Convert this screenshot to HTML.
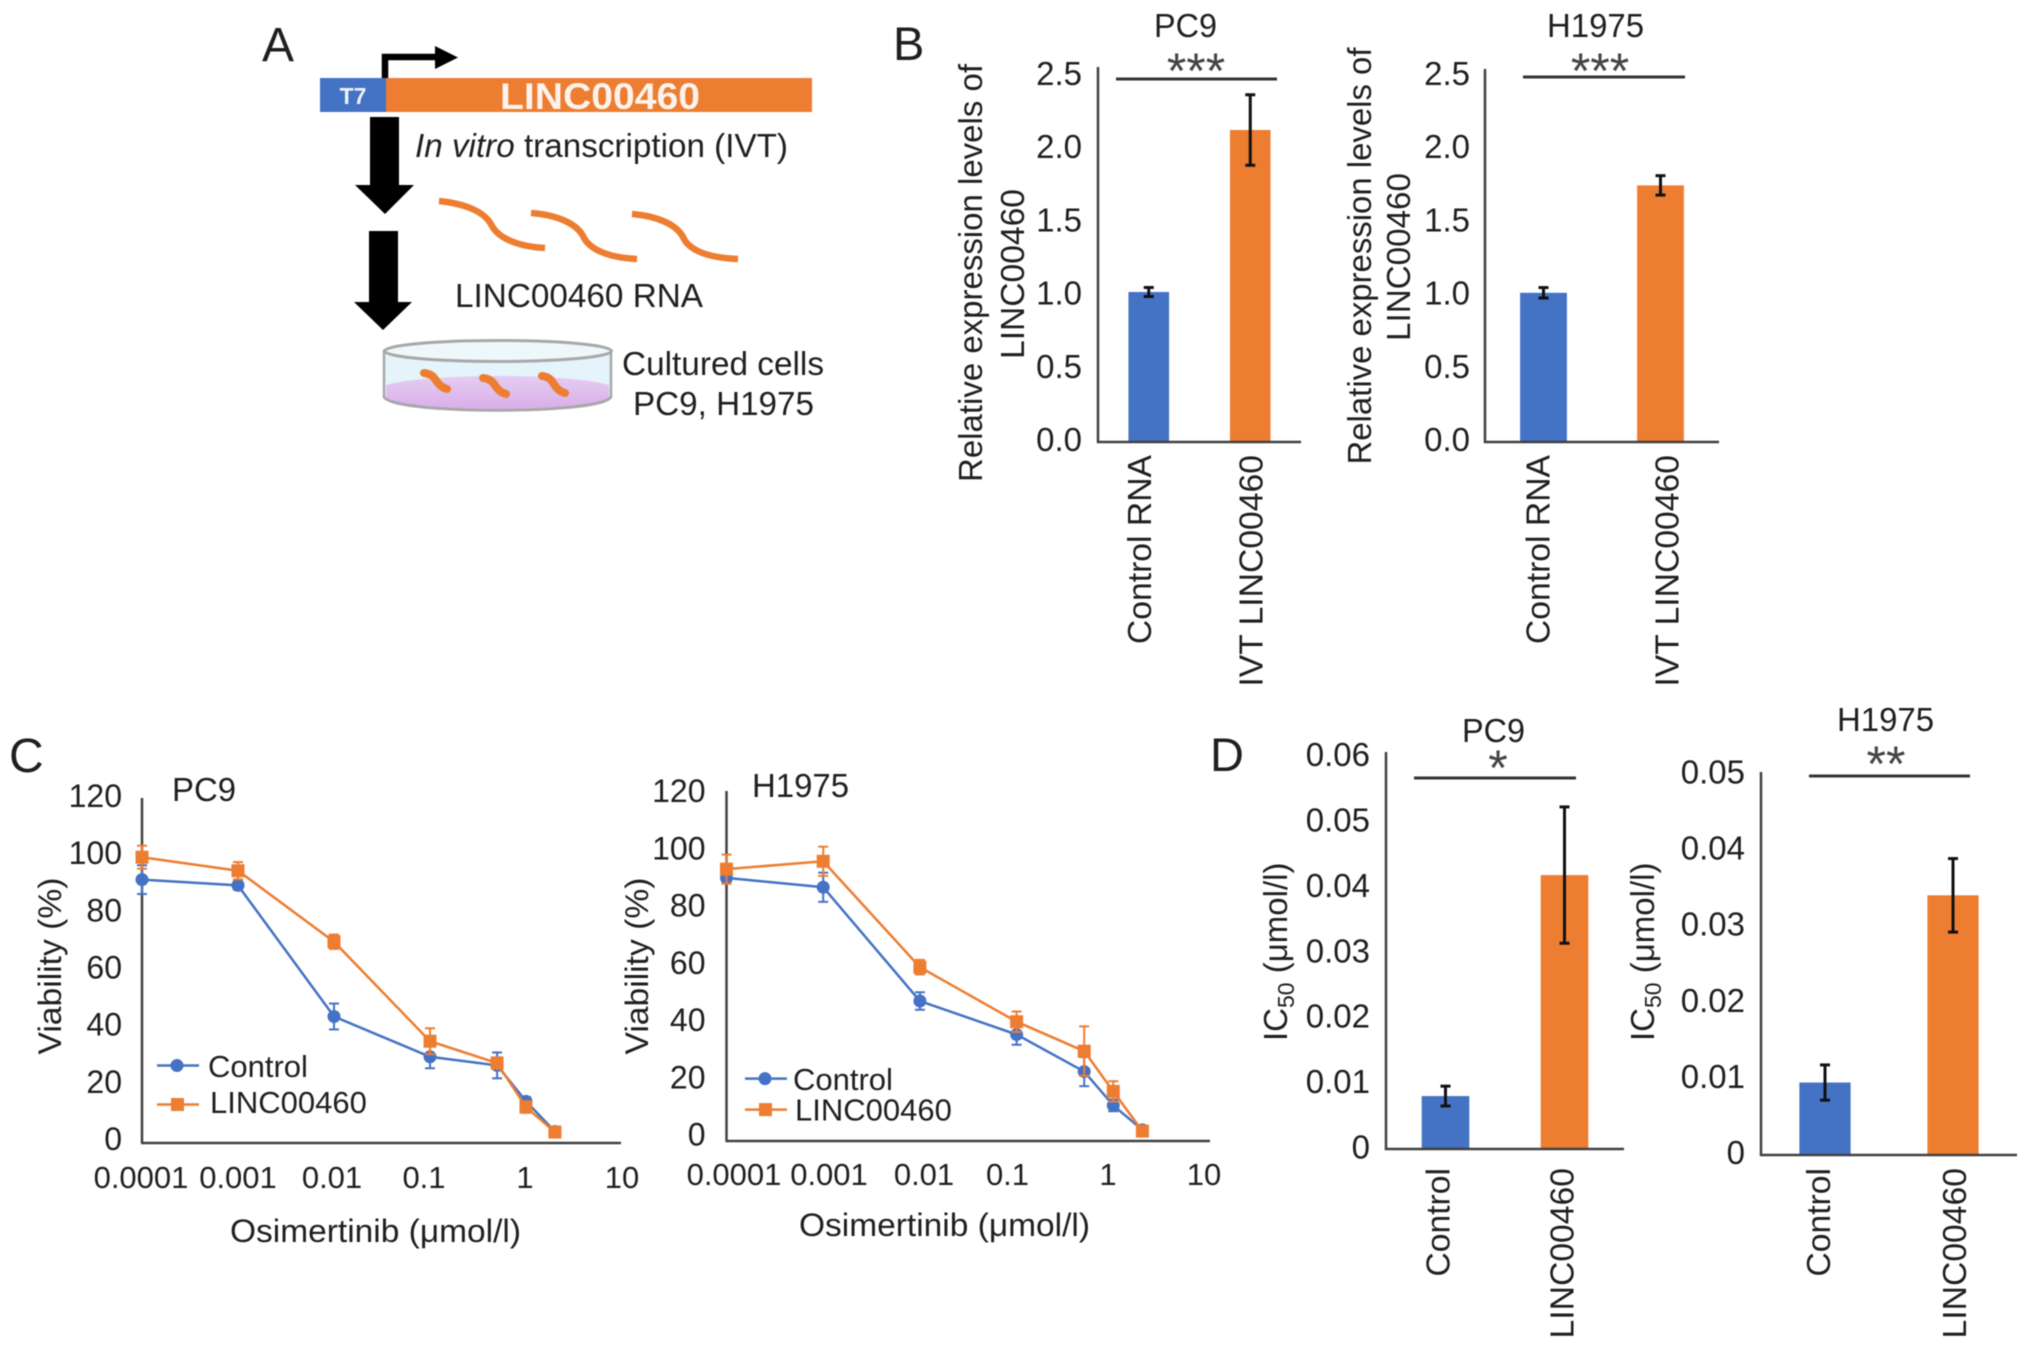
<!DOCTYPE html>
<html lang="en">
<head>
<meta charset="utf-8">
<title>LINC00460 figure</title>
<style>
html,body{margin:0;padding:0;background:#fff;}
svg{display:block;filter:blur(0.6px);}
text{font-family:"Liberation Sans",Arial,sans-serif;fill:#1f1f1f;}
</style>
</head>
<body>
<svg id="fig" xmlns="http://www.w3.org/2000/svg" width="2032" height="1347" viewBox="0 0 2032 1347">
<defs>
  <linearGradient id="mediumFill" x1="0" y1="0" x2="0" y2="1">
    <stop offset="0" stop-color="#e6cdf3"/>
    <stop offset="1" stop-color="#d9aee9"/>
  </linearGradient>
</defs>
<rect x="0" y="0" width="2032" height="1347" fill="#fff"/>

<!-- Panel letters -->
<text x="262" y="61" font-size="48" fill="#111">A</text>
<text x="893" y="60" font-size="47">B</text>
<text x="9" y="772" font-size="48">C</text>
<text x="1210" y="771" font-size="47">D</text>

<!-- Panel A -->
<g>
  <rect x="320" y="78" width="66" height="34" fill="#4472c4"/>
  <rect x="386" y="78" width="426" height="34" fill="#ed7d31"/>
  <text x="353" y="104" font-size="23" font-weight="bold" text-anchor="middle" style="fill:#eef2fa">T7</text>
  <text x="600" y="109" font-size="37" font-weight="bold" text-anchor="middle" textLength="200" lengthAdjust="spacingAndGlyphs" style="fill:#fdf3ec">LINC00460</text>
  <path d="M385 78 V57 H440" fill="none" stroke="#000" stroke-width="6.5"/>
  <path d="M435 46 L458 57.5 L435 69 Z" fill="#000"/>
  <path d="M370 117 H399 V185 H414 L385 214 L355 185 H370 Z" fill="#000"/>
  <path d="M369 231 H398 V302 H412 L383 330 L354 302 H369 Z" fill="#000"/>
  <text x="415" y="157" font-size="33" textLength="373" lengthAdjust="spacingAndGlyphs"><tspan font-style="italic">In vitro</tspan> transcription (IVT)</text>
  <g fill="none" stroke="#ed7d31" stroke-width="6.5">
    <path d="M439 201 C468 204 486 213 492 226 C500 240 522 247 545 248"/>
    <path d="M531 213 C558 215 578 224 584 238 C592 252 614 258 637 259"/>
    <path d="M632 214 C658 216 678 225 684 239 C692 253 714 258 738 259"/>
  </g>
  <text x="455" y="307" font-size="33" textLength="248" lengthAdjust="spacingAndGlyphs">LINC00460 RNA</text>
  <g>
    <path d="M384 351 V396 C384 415 611 415 611 396 V351 Z" fill="#e4f4fa" stroke="#a8a8a8" stroke-width="2.5"/>
    <path d="M386 385 C425 373 570 373 609 385 V396 C609 413 386 413 386 396 Z" fill="url(#mediumFill)"/>
    <path d="M384 396 C384 415 611 415 611 396" fill="none" stroke="#a8a8a8" stroke-width="3"/>
    <ellipse cx="498" cy="351" rx="113.5" ry="10.5" fill="#eef8fb" stroke="#a8a8a8" stroke-width="3"/>
    <g fill="none" stroke="#ed7d31" stroke-width="8" stroke-linecap="round">
      <path d="M424 373 C434 374 435 380 438 383 C441 387 444 388 447 389"/>
      <path d="M483 378 C493 379 494 385 497 388 C500 392 503 393 506 394"/>
      <path d="M542 376 C552 377 553 384 556 387 C559 391 562 392 565 393"/>
    </g>
  </g>
  <text x="622" y="375" font-size="33" textLength="202" lengthAdjust="spacingAndGlyphs">Cultured cells</text>
  <text x="633" y="415" font-size="33" textLength="181" lengthAdjust="spacingAndGlyphs">PC9, H1975</text>
</g>

<!-- Panel B static text -->
<text x="1154" y="37" font-size="33" textLength="63" lengthAdjust="spacingAndGlyphs">PC9</text>
<text x="1547" y="37" font-size="33" textLength="97" lengthAdjust="spacingAndGlyphs">H1975</text>
<text transform="translate(982,273) rotate(-90)" font-size="33" text-anchor="middle" textLength="418" lengthAdjust="spacingAndGlyphs">Relative expression levels of</text>
<text transform="translate(1024,274) rotate(-90)" font-size="33" text-anchor="middle" textLength="170" lengthAdjust="spacingAndGlyphs">LINC00460</text>
<text transform="translate(1371,256) rotate(-90)" font-size="33" text-anchor="middle" textLength="417" lengthAdjust="spacingAndGlyphs">Relative expression levels of</text>
<text transform="translate(1410,257) rotate(-90)" font-size="33" text-anchor="middle" textLength="168" lengthAdjust="spacingAndGlyphs">LINC00460</text>

<!-- Panel C static text -->
<text x="172" y="801" font-size="33" textLength="64" lengthAdjust="spacingAndGlyphs">PC9</text>
<text x="752" y="797" font-size="33" textLength="97" lengthAdjust="spacingAndGlyphs">H1975</text>
<text x="230" y="1242" font-size="32" textLength="291" lengthAdjust="spacingAndGlyphs">Osimertinib (μmol/l)</text>
<text x="799" y="1236" font-size="32" textLength="291" lengthAdjust="spacingAndGlyphs">Osimertinib (μmol/l)</text>
<text transform="translate(61,966) rotate(-90)" font-size="32" text-anchor="middle" textLength="177" lengthAdjust="spacingAndGlyphs">Viability (%)</text>
<text transform="translate(648,966) rotate(-90)" font-size="32" text-anchor="middle" textLength="177" lengthAdjust="spacingAndGlyphs">Viability (%)</text>

<!-- Panel D static text -->
<text x="1462" y="742" font-size="33" textLength="63" lengthAdjust="spacingAndGlyphs">PC9</text>
<text x="1837" y="731" font-size="33" textLength="97" lengthAdjust="spacingAndGlyphs">H1975</text>
<text transform="translate(1287,1041) rotate(-90)" font-size="33">IC<tspan font-size="23" dy="7">50</tspan><tspan dy="-7"> (μmol/l)</tspan></text>
<text transform="translate(1654,1041) rotate(-90)" font-size="33">IC<tspan font-size="23" dy="7">50</tspan><tspan dy="-7"> (μmol/l)</tspan></text>
</svg>

<script>
// ----- Panel B data -----
const bCategories = ['Control RNA', 'IVT LINC00460'];
const bTicks = ['0.0', '0.5', '1.0', '1.5', '2.0', '2.5'];
const bTickValues = [0, 0.5, 1, 1.5, 2, 2.5];
const bPc9Values = [1.0, 2.08];
const bPc9Errors = [0.03, 0.235];
const bH1975Values = [1.0, 1.72];
const bH1975Errors = [0.035, 0.065];

// ----- Panel C data -----
const cDoses = [0.0001, 0.001, 0.01, 0.1, 0.5, 1, 2];
const cTicks = ['0', '20', '40', '60', '80', '100', '120'];
const cTickValues = [0, 20, 40, 60, 80, 100, 120];
const cXTicks = ['0.0001', '0.001', '0.01', '0.1', '1', '10'];
const cSeriesNames = ['Control', 'LINC00460'];
const cPc9Control = [91.6, 89.6, 44, 30, 27, 14.5, 4];
const cPc9ControlErr = [5, 1.5, 4.5, 4, 4.5, 1.5, 0.5];
const cPc9Linc = [99.4, 94.7, 70, 35.4, 27.8, 12.5, 3.8];
const cPc9LincErr = [4, 3, 2.5, 4.5, 2, 2, 1];
const cH1975Control = [90.2, 87, 48, 36.5, 23.8, 12.2, 3.8];
const cH1975ControlErr = [1.5, 5, 3, 3.5, 5, 2, 1];
const cH1975Linc = [93.2, 95.9, 59.6, 40.9, 30.8, 17, 3.4];
const cH1975LincErr = [5, 5, 2.5, 3.5, 8.5, 3.5, 1];

// ----- Panel D data -----
const dCategories = ['Control', 'LINC00460'];
const dPc9Ticks = ['0', '0.01', '0.02', '0.03', '0.04', '0.05', '0.06'];
const dPc9TickValues = [0, 0.01, 0.02, 0.03, 0.04, 0.05, 0.06];
const dPc9Values = [0.008, 0.0414];
const dPc9Errors = [0.0015, 0.0103];
const dH1975Ticks = ['0', '0.01', '0.02', '0.03', '0.04', '0.05'];
const dH1975TickValues = [0, 0.01, 0.02, 0.03, 0.04, 0.05];
const dH1975Values = [0.00946, 0.0339];
const dH1975Errors = [0.0023, 0.0048];

const BLUE = '#4472c4';
const ORANGE = '#ed7d31';
const AXIS = '#404040';
const svg = document.getElementById('fig');

function mk(parent, tag, attrs, name, text) {
  const el = document.createElementNS('http://www.w3.org/2000/svg', tag);
  for (const k in attrs) el.setAttribute(k, attrs[k]);
  
  
  if (text !== undefined) el.textContent = text;
  parent.appendChild(el);
  return el;
}
function line(p, x1, y1, x2, y2, stroke, w, name) {
  return mk(p, 'line', {x1: x1, y1: y1, x2: x2, y2: y2, stroke: stroke, 'stroke-width': w}, name);
}

function drawBarChart(c) {
  const g = mk(svg, 'g', {}, c.id + '-chart');
  const y = v => c.base - (v / c.max) * (c.base - c.top);
  const band = (c.xEnd - c.x0) / c.values.length;
  const xc = i => c.x0 + (i + 0.5) * band;
  const labelY = v => c.labelBottom + (v / c.max) * (c.labelTop - c.labelBottom);
  c.values.forEach((v, i) => {
    const w = band * 0.4;
    mk(g, 'rect', {x: xc(i) - w / 2, y: y(v), width: w, height: c.base - y(v), fill: i === 0 ? BLUE : ORANGE}, c.id + '-bar-' + i);
  });
  line(g, c.x0, c.top, c.x0, c.base + 1, AXIS, 2.5, c.id + '-y-axis');
  line(g, c.x0 - 1, c.base, c.xEnd, c.base, AXIS, 2.5, c.id + '-x-axis');
  c.values.forEach((v, i) => {
    const e = c.errors[i], hi = y(v + e), lo = y(v - e);
    line(g, xc(i), hi, xc(i), lo, '#111', 3, c.id + '-error-' + i);
    line(g, xc(i) - 5, hi, xc(i) + 5, hi, '#111', 3, c.id + '-error-cap-top-' + i);
    line(g, xc(i) - 5, lo, xc(i) + 5, lo, '#111', 3, c.id + '-error-cap-bottom-' + i);
  });
  c.tickValues.forEach((v, i) => {
    mk(g, 'text', {x: c.x0 - c.tickGap, y: labelY(v) + 11, 'font-size': 33, 'text-anchor': 'end'}, c.id + '-y-tick-' + i, c.ticks[i]);
  });
  c.categories.forEach((t, i) => {
    const cx = xc(i) + c.catDx[i];
    mk(g, 'text', {transform: 'translate(' + (cx + 12) + ',' + c.catTop + ') rotate(-90)', 'font-size': 33.7, 'text-anchor': 'end'}, c.id + '-category-' + i, t);
  });
  line(g, c.sigX0, c.sigY, c.sigX1, c.sigY, '#333', 3, c.id + '-significance-line');
  mk(g, 'text', {x: c.starX, y: c.starY + 24, 'font-size': 50, 'text-anchor': 'middle', style: 'fill:#444'}, c.id + '-significance-stars', c.stars);
}

function drawLineChart(c) {
  const g = mk(svg, 'g', {}, c.id + '-chart');
  const x = d => c.x0 + c.decade * (Math.log10(d) + 4);
  const y = v => c.base - (v / 120) * (c.base - c.top);
  const labelY = v => c.labelBottom + (v / 120) * (c.labelTop - c.labelBottom);
  line(g, c.x0, c.top, c.x0, c.base, AXIS, 2.5, c.id + '-y-axis');
  line(g, c.x0 - 1, c.base, c.xEnd, c.base, AXIS, 2.5, c.id + '-x-axis');
  cTickValues.forEach((v, i) => {
    mk(g, 'text', {x: c.x0 - c.tickGap, y: labelY(v) + 10, 'font-size': 32, 'text-anchor': 'end'}, c.id + '-y-tick-' + i, cTicks[i]);
  });
  cXTicks.forEach((t, i) => {
    mk(g, 'text', {x: c.xLabelX[i], y: c.xLabelY, 'font-size': 31, 'text-anchor': 'middle'}, c.id + '-x-tick-' + i, t);
  });
  const series = [
    {name: 'control', vals: c.control, errs: c.controlErr, color: BLUE},
    {name: 'linc00460', vals: c.linc, errs: c.lincErr, color: ORANGE}
  ];
  series.forEach(s => {
    const sg = mk(g, 'g', {}, c.id + '-series-' + s.name);
    s.vals.forEach((v, i) => {
      const px = x(cDoses[i]), hi = y(v + s.errs[i]), lo = y(v - s.errs[i]);
      line(sg, px, hi, px, lo, s.color, 2, c.id + '-' + s.name + '-error-' + i);
      line(sg, px - 5, hi, px + 5, hi, s.color, 2, c.id + '-' + s.name + '-cap-top-' + i);
      line(sg, px - 5, lo, px + 5, lo, s.color, 2, c.id + '-' + s.name + '-cap-bottom-' + i);
    });
    mk(sg, 'polyline', {
      points: s.vals.map((v, i) => x(cDoses[i]) + ',' + y(v)).join(' '),
      fill: 'none', stroke: s.color, 'stroke-width': 2.5
    }, c.id + '-' + s.name + '-line');
    s.vals.forEach((v, i) => {
      const px = x(cDoses[i]), py = y(v);
      if (s.name === 'control') {
        mk(sg, 'circle', {cx: px, cy: py, r: 6.5, fill: s.color}, c.id + '-control-point-' + i);
      } else {
        mk(sg, 'rect', {x: px - 6.5, y: py - 6.5, width: 13, height: 13, fill: s.color}, c.id + '-linc00460-point-' + i);
      }
    });
  });
  const lg = mk(g, 'g', {}, c.id + '-legend');
  cSeriesNames.forEach((n, i) => {
    const ly = c.legendY[i], col = i === 0 ? BLUE : ORANGE;
    line(lg, c.legendX, ly, c.legendX + 42, ly, col, 2.5, c.id + '-legend-line-' + i);
    if (i === 0) {
      mk(lg, 'circle', {cx: c.legendX + 20, cy: ly, r: 6.5, fill: col}, c.id + '-legend-marker-' + i);
    } else {
      mk(lg, 'rect', {x: c.legendX + 14, y: ly - 6.5, width: 13, height: 13, fill: col}, c.id + '-legend-marker-' + i);
    }
    mk(lg, 'text', {x: c.legendTextX[i], y: c.legendTextY[i], 'font-size': 31}, c.id + '-legend-label-' + i, n);
  });
}

drawBarChart({id: 'b-pc9', x0: 1098, xEnd: 1301, top: 67, base: 442, max: 2.5,
  labelTop: 74, labelBottom: 440, tickGap: 16, values: bPc9Values, errors: bPc9Errors,
  ticks: bTicks, tickValues: bTickValues, categories: bCategories, catDx: [-10, 0], catTop: 455, 
  sigX0: 1116, sigX1: 1277, sigY: 79, starX: 1196, starY: 64, stars: '***'});
drawBarChart({id: 'b-h1975', x0: 1485, xEnd: 1719, top: 69, base: 442, max: 2.5,
  labelTop: 74, labelBottom: 440, tickGap: 15, values: bH1975Values, errors: bH1975Errors,
  ticks: bTicks, tickValues: bTickValues, categories: bCategories, catDx: [-6, 6], catTop: 455,
  sigX0: 1523, sigX1: 1685, sigY: 77, starX: 1600, starY: 64, stars: '***'});
drawLineChart({id: 'c-pc9', x0: 142, xEnd: 621, decade: 96, top: 798, base: 1143,
  labelTop: 797, labelBottom: 1140, tickGap: 20, control: cPc9Control, controlErr: cPc9ControlErr,
  linc: cPc9Linc, lincErr: cPc9LincErr, xLabelX: [141, 238, 332, 424, 525, 622], xLabelY: 1188,
  legendX: 157, legendY: [1065.5, 1104.5], legendTextX: [208, 210], legendTextY: [1077, 1113]});
drawLineChart({id: 'c-h1975', x0: 726.5, xEnd: 1210, decade: 96.7, top: 791, base: 1141,
  labelTop: 792, labelBottom: 1135.5, tickGap: 21, control: cH1975Control, controlErr: cH1975ControlErr,
  linc: cH1975Linc, lincErr: cH1975LincErr, xLabelX: [734, 829, 924, 1007.5, 1108, 1204], xLabelY: 1185,
  legendX: 745, legendY: [1078.6, 1109.6], legendTextX: [793, 795], legendTextY: [1090, 1120.6]});
drawBarChart({id: 'd-pc9', x0: 1386, xEnd: 1624, top: 752, base: 1149, max: 0.06,
  labelTop: 755, labelBottom: 1147.5, tickGap: 16, values: dPc9Values, errors: dPc9Errors,
  ticks: dPc9Ticks, tickValues: dPc9TickValues, categories: dCategories, catDx: [-8, -3], catTop: 1168,
  sigX0: 1414, sigX1: 1576, sigY: 778, starX: 1498, starY: 761, stars: '*'});
drawBarChart({id: 'd-h1975', x0: 1761, xEnd: 2017, top: 772, base: 1155, max: 0.05,
  labelTop: 772.5, labelBottom: 1153, tickGap: 16, values: dH1975Values, errors: dH1975Errors,
  ticks: dH1975Ticks, tickValues: dH1975TickValues, categories: dCategories, catDx: [-7, 1], catTop: 1168,
  sigX0: 1809, sigX1: 1970, sigY: 776, starX: 1886, starY: 757, stars: '**'});
</script>
</body>
</html>
